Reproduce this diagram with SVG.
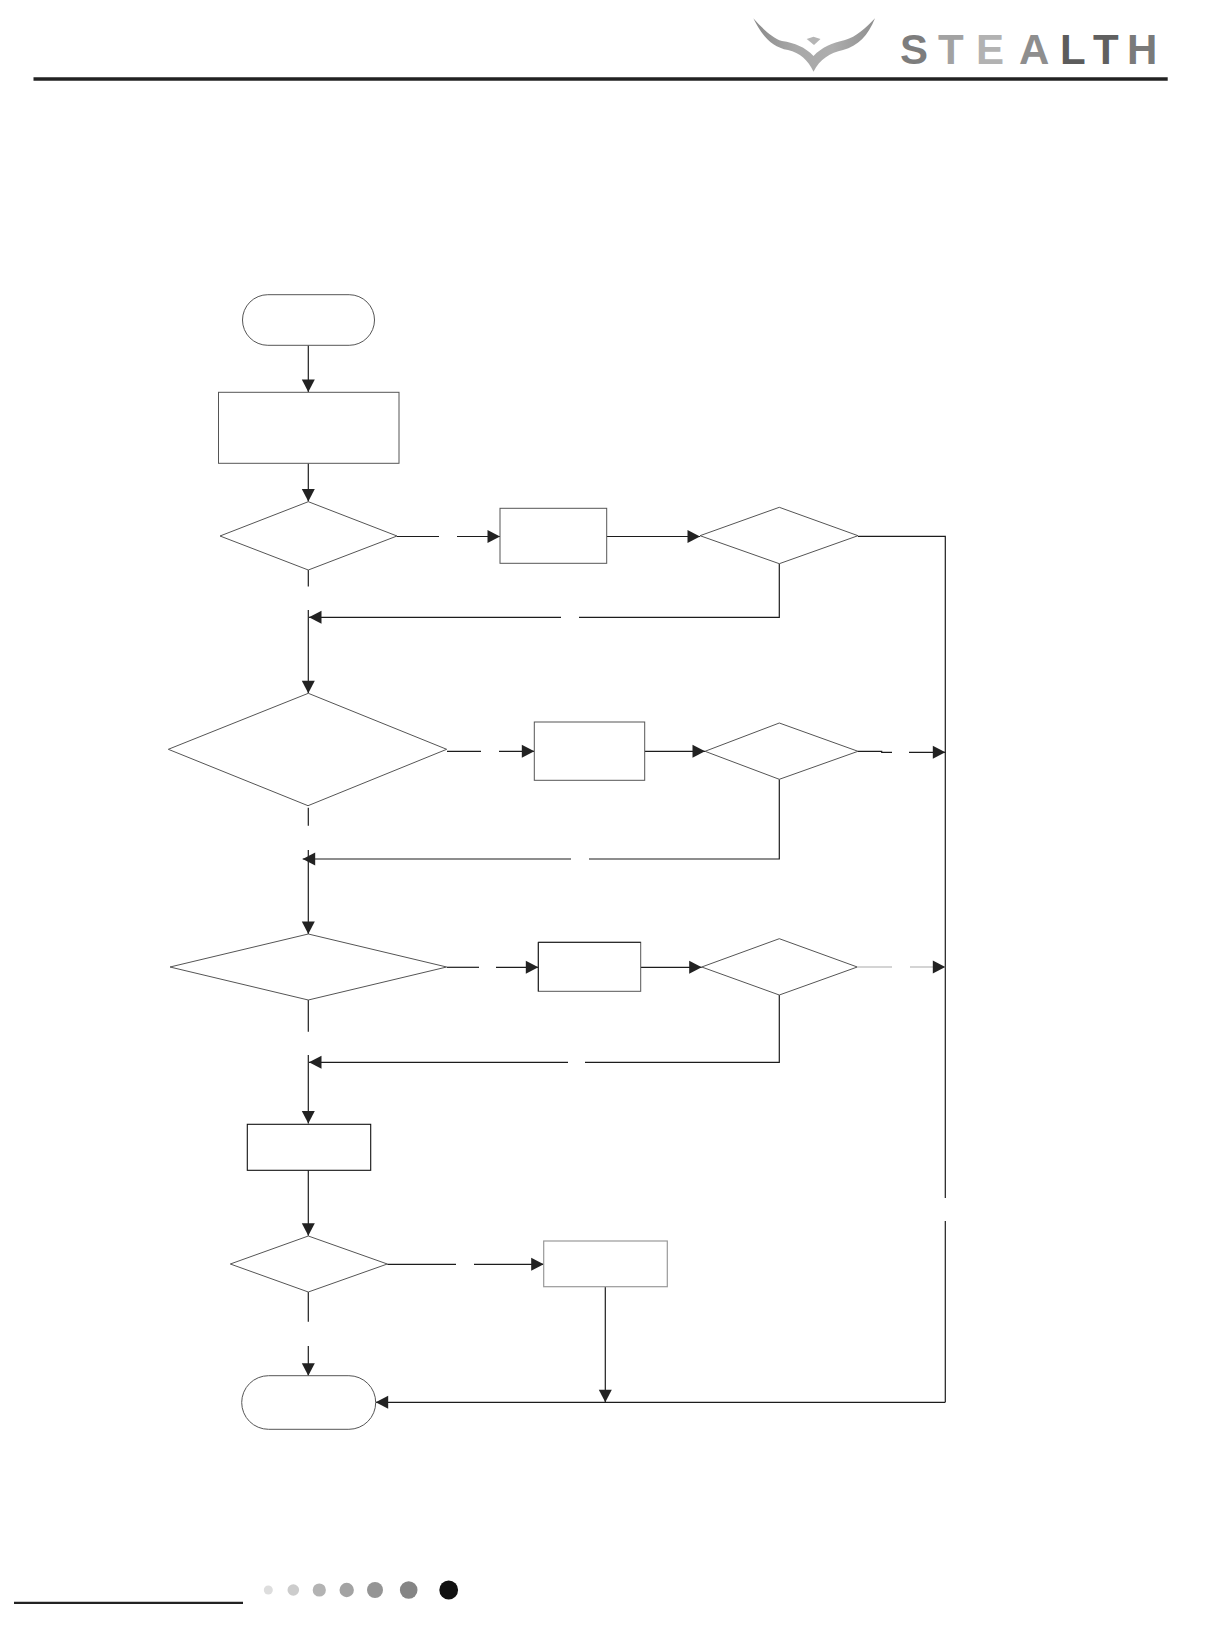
<svg xmlns="http://www.w3.org/2000/svg" width="1213" height="1644" viewBox="0 0 1213 1644">
<style>
.n{fill:#fff;stroke:#555;stroke-width:1}
.d{fill:#fff;stroke:#555;stroke-width:1}
.k{fill:#fff;stroke:#111;stroke-width:1.3}
.g{fill:#fff;stroke:#999;stroke-width:1.2}
.c{fill:none;stroke:#1c1c1c;stroke-width:1.2}
.a{marker-end:url(#arr)}
.rule{fill:none;stroke:#222}
.logo{font-family:"Liberation Sans",Arial,sans-serif;font-weight:700;font-size:42px}
</style>
<defs>
<marker id="arr" markerUnits="userSpaceOnUse" markerWidth="13" markerHeight="13" refX="12.5" refY="6.5" orient="auto" overflow="visible"><path d="M0 0L12.5 6.5L0 13Z" fill="#222"/></marker>
<linearGradient id="wing" x1="0" y1="0" x2="1" y2="0"><stop offset="0" stop-color="#8a8a8a"/><stop offset=".35" stop-color="#a8a8a8"/><stop offset=".65" stop-color="#adadad"/><stop offset="1" stop-color="#8f8f8f"/></linearGradient>
</defs>
<rect width="1213" height="1644" fill="#fff"/>
<g id="header">
<path d="M753.3 18.3C762 28 772 38 782 41C795 43 805 47 813.5 56C822 47 832 43 845 40C856 37 866 28 875 18.3C868 36 858 46 843 50C830 53 820 59 813.5 71.7C808 60 800 53 788 50C772 47 762 36 753.3 18.3Z" fill="url(#wing)"/>
<path d="M806.7 39L813.5 36.7L820.5 39L814 45Z" fill="#b5b5b5"/>
<text class="logo" y="63.5"><tspan x="900" fill="#7d7d7d">S</tspan><tspan x="938" fill="#a2a2a2">T</tspan><tspan x="976" fill="#b2b2b2">E</tspan><tspan x="1019" fill="#8e8e8e">A</tspan><tspan x="1060" fill="#5c5c5c">L</tspan><tspan x="1093" fill="#606060">T</tspan><tspan x="1127" fill="#7a7a7a">H</tspan></text>
<path class="rule" d="M33.5 79H1167.7" stroke-width="3.7"/>
</g>
<g id="footer">
<path class="rule" d="M14 1602.8H243" stroke-width="2.2"/>
<circle cx="268.3" cy="1590" r="4.5" fill="#ddd"/>
<circle cx="293.3" cy="1590" r="5.8" fill="#ccc"/>
<circle cx="319.3" cy="1590" r="6.6" fill="#b3b3b3"/>
<circle cx="346.7" cy="1590" r="7.2" fill="#a3a3a3"/>
<circle cx="375" cy="1590" r="8" fill="#959595"/>
<circle cx="408.7" cy="1590" r="8.8" fill="#858585"/>
<circle cx="448.7" cy="1590" r="9.4" fill="#111"/>
</g>
<g id="connectors">
<path class="c a" d="M308.3 345.3V392"/>
<path class="c a" d="M308.3 463.3V501.5"/>
<path class="c" d="M397 536.5H439"/>
<path class="c a" d="M457 536.5H500"/>
<path class="c a" d="M606.7 536.5H700"/>
<path class="c" d="M308.3 570V586.5"/>
<path class="c a" d="M308.3 610V693.3"/>
<path class="c" d="M779.3 563.7V617.3H579"/>
<path class="c a" d="M561 617.3H309"/>
<path class="c" d="M858 536.3H945.3V1198"/>
<path class="c" d="M945.3 1221V1402.3"/>
<path class="c" d="M447 751.3H481"/>
<path class="c a" d="M499 751.3H534.3"/>
<path class="c a" d="M644.7 751.3H705"/>
<path class="c" d="M858 751.3H881.7V752.3H892"/>
<path class="c a" d="M909 752.3H945.3"/>
<path class="c" d="M308.3 807.7V825.7"/>
<path class="c a" d="M308.3 850V934"/>
<path class="c" d="M779.3 779.3V859H589"/>
<path class="c a" d="M571 859H302.7"/>
<path class="c" d="M447 967.3H479"/>
<path class="c a" d="M496 967.3H538.3"/>
<path class="c a" d="M640.7 967.3H701.7"/>
<path class="c" d="M858 967H892" style="stroke:#aaa"/>
<path class="c a" d="M910 967H945.3" style="stroke:#aaa"/>
<path class="c" d="M308.3 1000V1031.7"/>
<path class="c a" d="M308.3 1055V1123.5"/>
<path class="c" d="M779.3 995V1062.3H585"/>
<path class="c a" d="M568 1062.3H309"/>
<path class="c a" d="M308.3 1170.3V1235.7"/>
<path class="c" d="M387.3 1264.3H456"/>
<path class="c a" d="M474 1264.3H543.7"/>
<path class="c" d="M308.3 1292V1321.7"/>
<path class="c a" d="M308.3 1346V1375.7"/>
<path class="c a" d="M605.3 1286.7V1402.3"/>
<path class="c a" d="M945.3 1402.3H375.7"/>
</g>
<g id="start"><rect class="n" x="242.5" y="294.7" width="132" height="50.6" rx="25.3"/></g>
<g id="step1"><rect class="n" x="218.5" y="392.3" width="180.5" height="71"/></g>
<g id="decision1"><path class="d" d="M308.3 501.7L397 536L308.3 570L220 536Z"/></g>
<g id="action1"><rect class="n" x="500" y="508.3" width="106.7" height="55"/></g>
<g id="check1"><path class="d" d="M779.3 507.3L858 535.7L779.3 563.7L700 535.7Z"/></g>
<g id="decision2"><path class="d" d="M308.3 693.3L446.7 749.3L308 805.7L168.3 749.3Z"/></g>
<g id="action2"><rect class="n" x="534.3" y="722" width="110.4" height="58.3"/></g>
<g id="check2"><path class="d" d="M779.3 723L858 751.3L779.3 779.3L705 751.3Z"/></g>
<g id="decision3"><path class="d" d="M308.3 934L446.7 967L308.3 1000L170 967Z"/></g>
<g id="action3"><rect class="n" x="538.3" y="942.3" width="102.4" height="49"/><path d="M538.3 942.3H640.7M538.3 942.3V991.3" fill="none" stroke="#111" stroke-width=".9"/></g>
<g id="check3"><path class="d" d="M779.3 938.7L857.3 967L779.3 995L701.7 967Z"/></g>
<g id="step2"><rect class="k" x="247.3" y="1124.3" width="123.4" height="46" style="stroke-width:1.1"/></g>
<g id="decision4"><path class="d" d="M308.3 1236L387.3 1264L308.3 1292L230.3 1264Z"/></g>
<g id="action4"><rect class="g" x="543.7" y="1241" width="123.6" height="45.7"/></g>
<g id="end"><rect class="n" x="241.7" y="1375.7" width="134" height="53.6" rx="26.8"/></g>
</svg>
